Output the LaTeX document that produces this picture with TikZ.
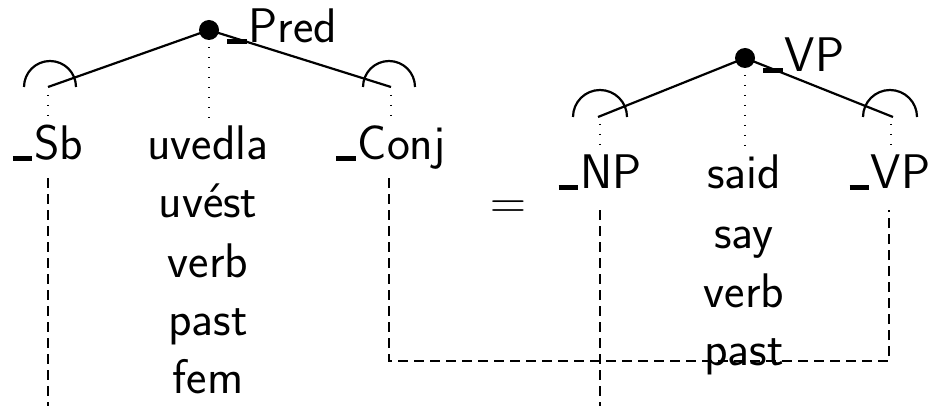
\documentclass[tikz,border=0pt]{standalone}
\newcommand{\ubar}{\leavevmode\rule[-0.02em]{0.4em}{0.1em}\kern0.04em}
\begin{document}
\begin{tikzpicture}[x=0.5pt,y=-0.5pt,
  txt/.style={font=\fontsize{24.3}{29}\selectfont\sffamily, inner sep=0pt, anchor=base},
  lbl/.style={txt, anchor=base west},
  rootdot/.style={circle, fill=black, inner sep=0pt, minimum size=10pt},
  treeedge/.style={line width=1.1pt},
  hook/.style={line width=1.1pt},
  dotline/.style={line width=0.7pt, dash pattern=on 0.7pt off 4.3pt},
  dashline/.style={line width=0.8pt, dash pattern=on 5pt off 3pt}]
\useasboundingbox (0,0) rectangle (929,406);

% ---------- left tree ----------
\node[rootdot] (r1) at (209,30) {};
\node[lbl] (r1l) at (227,43) {\ubar Pred};
\coordinate (l1) at (48,87);
\coordinate (c1) at (391,87);
\draw[treeedge] (l1) -- (r1.center) -- (c1);
\draw[hook] (24,87) arc[start angle=180,end angle=0,radius=13pt];
\draw[hook] (363,87) arc[start angle=180,end angle=0,radius=13pt];

\coordinate (l1a) at (48,95);  \coordinate (l1b) at (48,118);
\coordinate (m1a) at (209,47); \coordinate (m1b) at (209,118);
\coordinate (c1a) at (391,95); \coordinate (c1b) at (391,118);
\draw[dotline] (l1a) -- (l1b);
\draw[dotline] (m1a) -- (m1b);
\draw[dotline] (c1a) -- (c1b);

\node[txt] (sb) at (48,160) {\ubar Sb};
\node[txt] (w1) at (208,160) {uvedla};
\node[txt] (w2) at (208,217) {uvést};
\node[txt] (w3) at (208,277) {verb};
\node[txt] (w4) at (208,335) {past};
\node[txt] (w5) at (208,393) {fem};
\node[txt] (conj) at (391,160) {\ubar Conj};

% ---------- equals ----------
\node[txt] (eq) at (508,218) {$=$};

% ---------- right tree ----------
\node[rootdot] (r2) at (745,58) {};
\node[lbl] (r2l) at (763,72) {\ubar VP};
\coordinate (l2) at (598,117);
\coordinate (c2) at (893,117);
\draw[treeedge] (l2) -- (r2.center) -- (c2);
\draw[hook] (573,117) arc[start angle=180,end angle=0,radius=13.5pt];
\draw[hook] (863,117) arc[start angle=180,end angle=0,radius=13.5pt];

\coordinate (l2a) at (600,124); \coordinate (l2b) at (600,148);
\coordinate (m2a) at (745,75);  \coordinate (m2b) at (745,148);
\coordinate (c2a) at (891,124); \coordinate (c2b) at (891,148);
\draw[dotline] (l2a) -- (l2b);
\draw[dotline] (m2a) -- (m2b);
\draw[dotline] (c2a) -- (c2b);

\node[txt] (np) at (600,189) {\ubar NP};
\node[txt] (v1) at (744,189) {said};
\node[txt] (v2) at (744,248) {say};
\node[txt] (v3) at (744,307) {verb};
\node[txt] (v4) at (744,365) {past};
\node[txt] (vp) at (890,189) {\ubar VP};

% ---------- dashed links ----------
\coordinate (sbt) at (48,178);   \coordinate (sbb) at (48,406);
\coordinate (cjt) at (389,178);  \coordinate (cjb) at (389,361);
\coordinate (vpb) at (889,361);  \coordinate (vpt) at (889,210);
\coordinate (npt) at (600,210);  \coordinate (npb) at (600,406);
\draw[dashline] (sbt) -- (sbb);
\draw[dashline] (cjt) -- (cjb) -- (vpb) -- (vpt);
\draw[dashline] (npt) -- (npb);
\end{tikzpicture}
\end{document}
